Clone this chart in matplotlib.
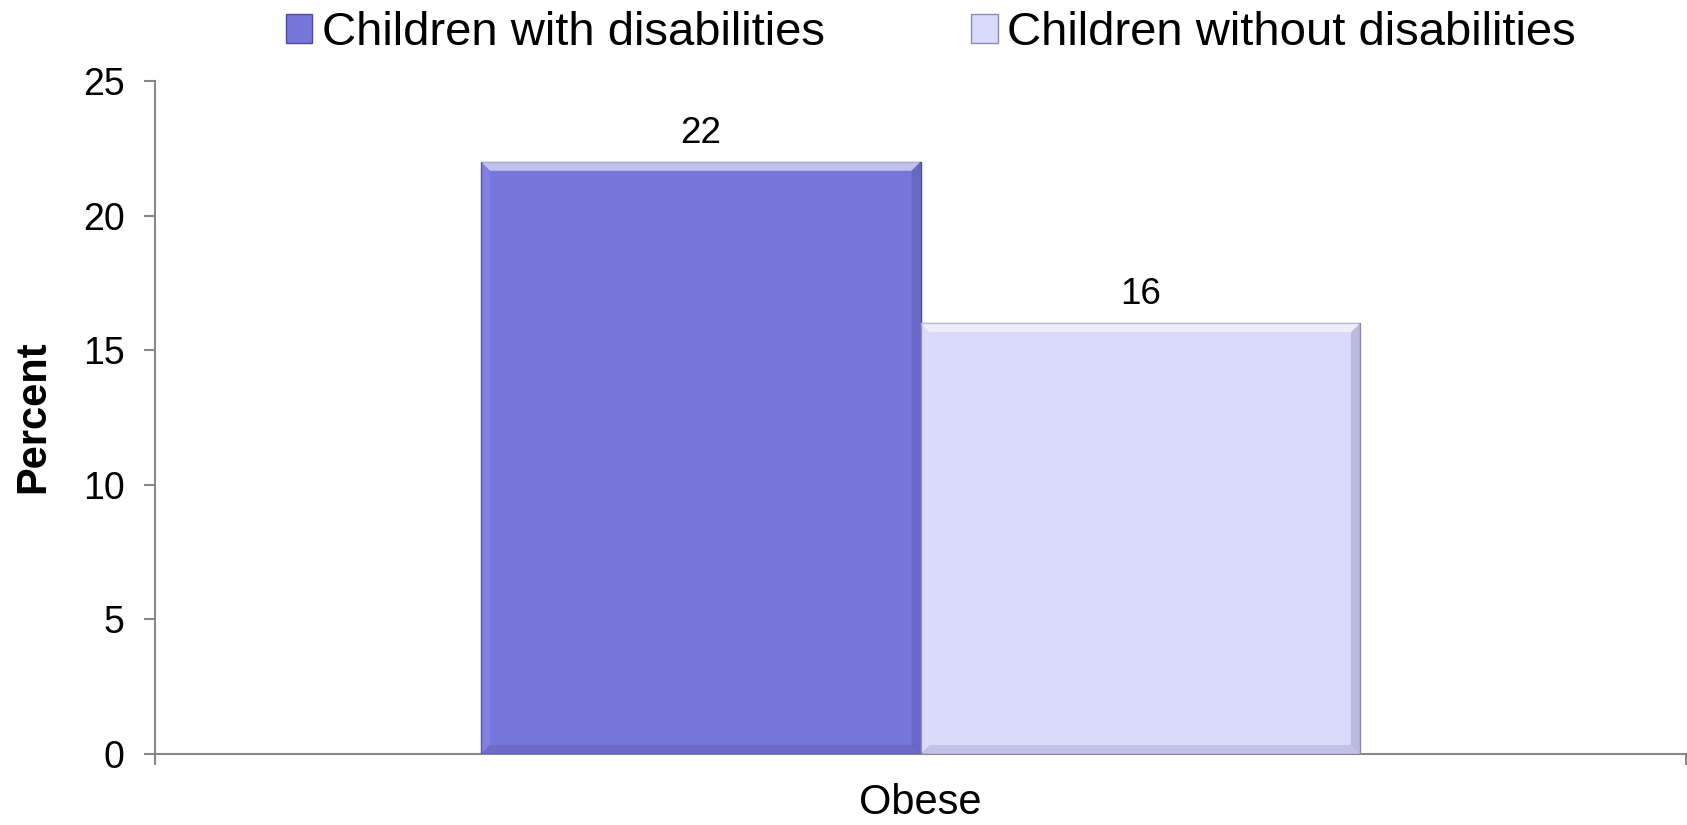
import matplotlib
matplotlib.use("Agg")
import matplotlib.pyplot as plt
from matplotlib.patches import Polygon, Patch

plt.rcParams['font.family'] = ['Liberation Sans', 'DejaVu Sans']

# data
categories = ['Obese']
series_names = ['Children with disabilities', 'Children without disabilities']
series_values = [[22], [16]]
bar_colors = ['#7776DC', '#D9D9FB']
edge_colors = ['#4A4AA0', '#8A8AAE']
yticks = [0, 5, 10, 15, 20, 25]

fig = plt.figure(figsize=(16.87, 8.25), dpi=100)
ax = fig.add_axes([155 / 1687, 1 - 754 / 825, 1531 / 1687, 673 / 825])

width = 0.287
offsets = [-width / 2, width / 2]
bars = []
for vals, off, col, ec in zip(series_values, offsets, bar_colors, edge_colors):
    b = ax.bar([i + off for i in range(len(categories))], vals, width=width,
               color=col, edgecolor=ec, linewidth=1.0, zorder=3)
    bars.append(b)

ax.set_xlim(-0.5, len(categories) - 0.5)
ax.set_ylim(0, 25)


def bevel(rect, light, dark, px=9):
    # soft light top/left and dark right/bottom strips
    x0, w, h = rect.get_x(), rect.get_width(), rect.get_height()
    x1 = x0 + w
    dx = px / 1531 * (ax.get_xlim()[1] - ax.get_xlim()[0])
    dy = px / 673 * (ax.get_ylim()[1] - ax.get_ylim()[0])
    polys = [
        ([(x0, h), (x1, h), (x1 - dx, h - dy), (x0 + dx, h - dy)], light, 0.55),
        ([(x1, h), (x1, 0), (x1 - dx, dy), (x1 - dx, h - dy)], dark, 0.16),
        ([(x0, 0), (x1, 0), (x1 - dx, dy), (x0 + dx, dy)], dark, 0.12),
        ([(x0, h), (x0, 0), (x0 + dx, dy), (x0 + dx, h - dy)], light, 0.08),
    ]
    for pts, c, a in polys:
        ax.add_patch(Polygon(pts, closed=True, facecolor=c, edgecolor='none',
                             alpha=a, zorder=4))


for b in bars:
    for rect in b:
        bevel(rect, '#FFFFFF', '#1E1E50')

# value labels
for b, vals in zip(bars, series_values):
    for rect, v in zip(b, vals):
        ax.annotate(f'{v}', (rect.get_x() + rect.get_width() / 2, v),
                    xytext=(0, 8), textcoords='offset points',
                    ha='center', va='bottom', fontsize=26.5, color='black')

# axes styling
for s in ['top', 'right']:
    ax.spines[s].set_visible(False)
for s in ['left', 'bottom']:
    ax.spines[s].set_color('#888888')
    ax.spines[s].set_linewidth(1.5)

ax.set_yticks(yticks)
ax.tick_params(axis='y', direction='out', length=8, width=1.5, color='#888888',
               labelsize=27, pad=14)
ax.set_xticks([-0.5, 0.5])
ax.set_xticklabels(['', ''])
ax.tick_params(axis='x', direction='out', length=8, width=1.5, color='#888888')
ax.set_xticks(range(len(categories)), minor=True)
ax.set_xticklabels(categories, minor=True)
ax.tick_params(axis='x', which='minor', length=0, labelsize=30, pad=21)

fig.text(33 / 1687, 1 - 417 / 825, 'Percent', rotation=90, ha='center',
         va='center', fontsize=30, fontweight='bold')

handles = [Patch(facecolor=c, edgecolor=e, linewidth=1.0)
           for c, e in zip(bar_colors, edge_colors)]
fig.legend(handles, series_names, loc='center', ncol=2,
           bbox_to_anchor=(931 / 1687, 1 - 33 / 825), frameon=False,
           fontsize=34, handlelength=0.56, handleheight=0.56,
           handletextpad=0.2, columnspacing=3.1, borderpad=0)

fig.savefig('out.png', dpi=100)
